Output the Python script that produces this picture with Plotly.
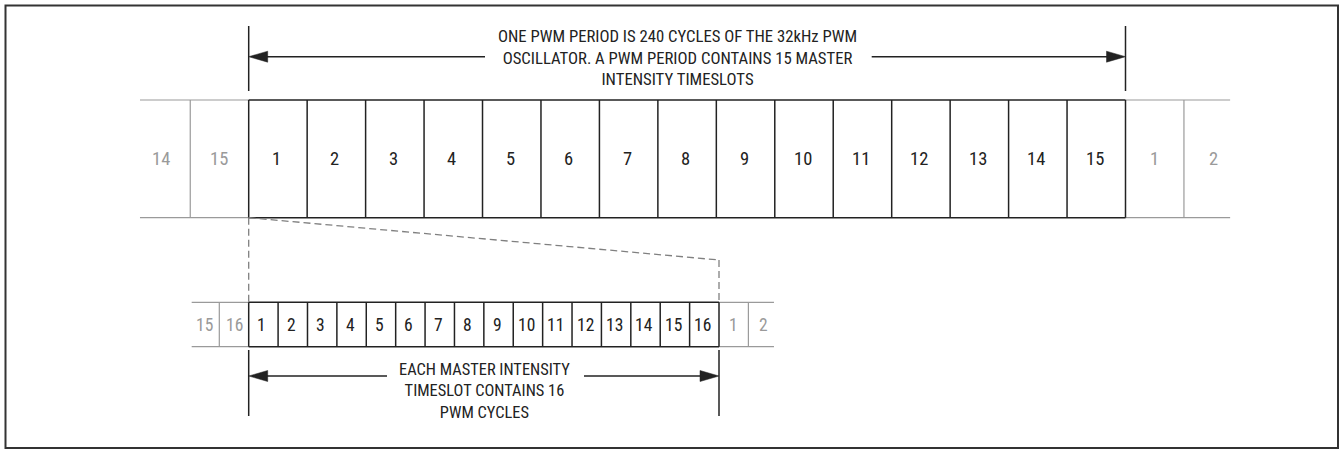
import plotly.graph_objects as go

# ---------------- data ----------------
top_prev_labels = ["14", "15"]
top_main_labels = [str(i) for i in range(1, 16)]
top_next_labels = ["1", "2"]

bottom_prev_labels = ["15", "16"]
bottom_main_labels = [str(i) for i in range(1, 17)]
bottom_next_labels = ["1", "2"]

top_caption = ["ONE PWM PERIOD IS 240 CYCLES OF THE 32kHz PWM",
               "OSCILLATOR. A PWM PERIOD CONTAINS 15 MASTER",
               "INTENSITY TIMESLOTS"]
bottom_caption = ["EACH MASTER INTENSITY",
                  "TIMESLOT CONTAINS 16",
                  "PWM CYCLES"]

# ---------------- layout constants (pixels) ----------------
W, H = 1341, 450
FONT = "Roboto Condensed, Liberation Sans Narrow, DejaVu Sans Condensed, sans-serif"
BLACK = "#222222"
GREY = "#9a9a9a"
DASH_GREY = "#808080"

X0 = 248.7                     # start of slot 1 (both rows)
TOP_W = (1125.5 - X0) / 15     # big timeslot width
BOT_W = (719.0 - X0) / 16      # small PWM cycle width
TOP_Y0, TOP_Y1 = 100.0, 217.7
BOT_Y0, BOT_Y1 = 302.3, 346.7
TOP_EXT_L, TOP_EXT_R = 1.86, 1.79
BOT_EXT_L, BOT_EXT_R = 1.94, 1.87

shapes = []
annotations = []


def line(x0, y0, x1, y1, color=BLACK, width=1.5, dash="solid"):
    shapes.append(dict(type="line", xref="x", yref="y", x0=x0, y0=y0, x1=x1, y1=y1,
                       line=dict(color=color, width=width, dash=dash), layer="above"))


def tri(xtip, y, direction, length=19, half=5.5):
    xb = xtip + length * direction
    shapes.append(dict(type="path", xref="x", yref="y",
                       path=f"M {xtip},{y} L {xb},{y-half} L {xb},{y+half} Z",
                       fillcolor=BLACK, line=dict(color=BLACK, width=0.5), layer="above"))


def text(x, y, s, size, color=BLACK):
    annotations.append(dict(x=x, y=y, xref="x", yref="y", text=s, showarrow=False,
                            xanchor="center", yanchor="middle",
                            font=dict(family=FONT, size=size, color=color)))


def slot_row(y0, y1, w, main, prev, nxt, ext_l, ext_r, size):
    n = len(main)
    xs = [X0 + i * w for i in range(n + 1)]
    xl = X0 - ext_l * w
    xr = xs[-1] + ext_r * w
    # grey extension lines
    line(xl, y0, X0, y0, GREY, 1.2)
    line(xl, y1, X0, y1, GREY, 1.2)
    line(xs[-1], y0, xr, y0, GREY, 1.2)
    line(xs[-1], y1, xr, y1, GREY, 1.2)
    # grey dividers
    for k in range(1, len(prev)):
        xd = X0 - k * w
        line(xd, y0, xd, y1, GREY, 1.2)
    for k in range(1, len(nxt)):
        xd = xs[-1] + k * w
        line(xd, y0, xd, y1, GREY, 1.2)
    # main slots
    line(X0, y0, xs[-1], y0)
    line(X0, y1, xs[-1], y1)
    for x in xs:
        line(x, y0, x, y1)
    ym = (y0 + y1) / 2
    for i, lab in enumerate(main):
        text(X0 + (i + 0.5) * w - 1.5, ym, lab, size)
    for k, lab in enumerate(prev):
        text(X0 - (len(prev) - k - 0.5) * w, ym, lab, size, GREY)
    for k, lab in enumerate(nxt):
        text(xs[-1] + (k + 0.5) * w, ym, lab, size, GREY)
    return xs


top_xs = slot_row(TOP_Y0, TOP_Y1, TOP_W, top_main_labels, top_prev_labels,
                  top_next_labels, TOP_EXT_L, TOP_EXT_R, 18.5)
bot_xs = slot_row(BOT_Y0, BOT_Y1, BOT_W, bottom_main_labels, bottom_prev_labels,
                  bottom_next_labels, BOT_EXT_L, BOT_EXT_R, 17.5)

# ---------------- top dimension arrow ----------------
TA_Y = 56.7
line(top_xs[0], 26, top_xs[0], 91)
line(top_xs[-1], 26, top_xs[-1], 91)
line(top_xs[0] + 10, TA_Y, 485, TA_Y)
line(871.7, TA_Y, top_xs[-1] - 10, TA_Y)
tri(top_xs[0], TA_Y, 1)
tri(top_xs[-1], TA_Y, -1)
text(677, 58, "<br>".join(top_caption), 16.7)

# ---------------- bottom dimension arrow ----------------
BA_Y = 376
line(bot_xs[0], 350, bot_xs[0], 416)
line(bot_xs[-1], 350, bot_xs[-1], 416)
line(bot_xs[0] + 10, BA_Y, 387, BA_Y)
line(584, BA_Y, bot_xs[-1] - 10, BA_Y)
tri(bot_xs[0], BA_Y, 1)
tri(bot_xs[-1], BA_Y, -1)
text(484, 391, "<br>".join(bottom_caption), 16.4)

# ---------------- zoom (dashed) lines ----------------
SLANT_Y = 260
line(top_xs[0], TOP_Y1, top_xs[0], BOT_Y0, DASH_GREY, 1.3, "7px,4px")
line(top_xs[0], TOP_Y1, bot_xs[-1], SLANT_Y, DASH_GREY, 1.3, "7px,4px")
line(bot_xs[-1], SLANT_Y, bot_xs[-1], BOT_Y0, DASH_GREY, 1.3, "7px,4px")

# ---------------- outer frame ----------------
shapes.insert(0, dict(type="rect", xref="x", yref="y", x0=5.5, y0=5.5, x1=1338, y1=448,
                      line=dict(color="#333333", width=2), fillcolor="white", layer="below"))

fig = go.Figure()
fig.update_layout(
    width=W, height=H,
    margin=dict(l=0, r=0, t=0, b=0),
    paper_bgcolor="white", plot_bgcolor="white",
    xaxis=dict(range=[0, W], visible=False, fixedrange=True),
    yaxis=dict(range=[H, 0], visible=False, fixedrange=True),
    shapes=shapes, annotations=annotations, showlegend=False,
)
fig.write_html("out.html", config={"displayModeBar": False},
               post_script="document.body.style.margin='0px';")
